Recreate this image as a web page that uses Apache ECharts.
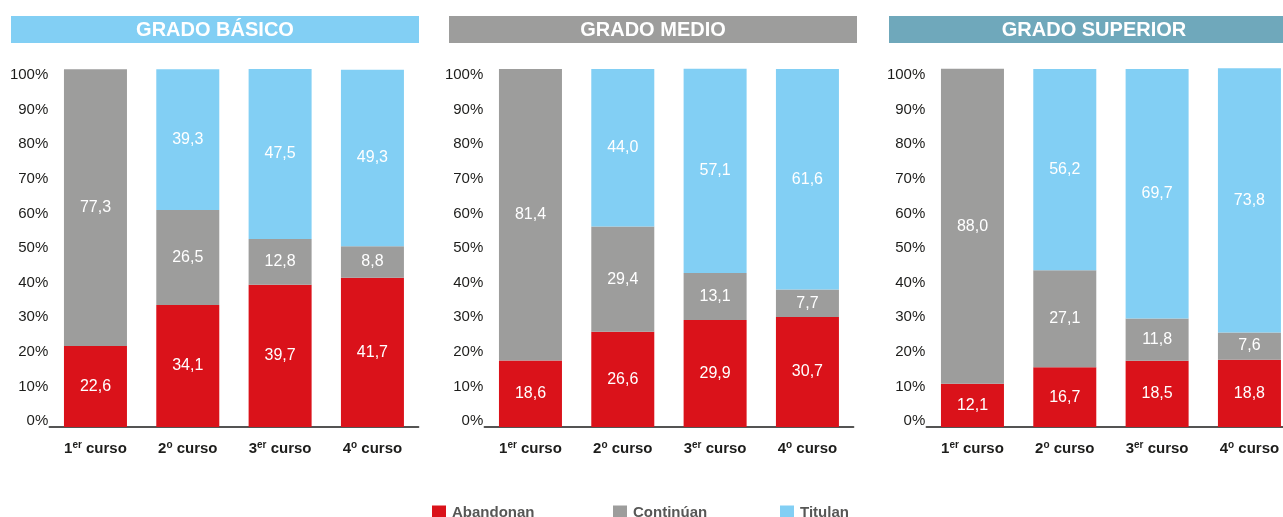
<!DOCTYPE html>
<html>
<head>
<meta charset="utf-8">
<script src="https://cdn.jsdelivr.net/npm/echarts@6/dist/echarts.min.js"></script>
<style>
  html, body { margin: 0; padding: 0; background: #fff; }
  #main { width: 1283px; height: 517px; }
</style>
</head>
<body>
<div id="main"></div>
<script>
const categories = ['1er curso', '2º curso', '3er curso', '4º curso']
const panels = ['GRADO BÁSICO', 'GRADO MEDIO', 'GRADO SUPERIOR']
const seriesNames = ['Abandonan', 'Continúan', 'Titulan']

// one array per panel and group, in %
const basicoAbandonan = [22.6, 34.1, 39.7, 41.7]
const basicoContinuan = [77.3, 26.5, 12.8, 8.8]
const basicoTitulan = [null, 39.3, 47.5, 49.3]

const medioAbandonan = [18.6, 26.6, 29.9, 30.7]
const medioContinuan = [81.4, 29.4, 13.1, 7.7]
const medioTitulan = [null, 44.0, 57.1, 61.6]

const superiorAbandonan = [12.1, 16.7, 18.5, 18.8]
const superiorContinuan = [88.0, 27.1, 11.8, 7.6]
const superiorTitulan = [null, 56.2, 69.7, 73.8]

const yTicks = [0, 10, 20, 30, 40, 50, 60, 70, 80, 90, 100]

const data = [
  [basicoAbandonan, basicoContinuan, basicoTitulan],
  [medioAbandonan, medioContinuan, medioTitulan],
  [superiorAbandonan, superiorContinuan, superiorTitulan],
]

const colors = ['#da121a', '#9d9d9c', '#82cff4']
const titleColors = ['#82cff4', '#9d9d9c', '#6fa8bb']
const font = '"Liberation Sans", Arial, Helvetica, sans-serif'
const dark = '#1d1d1b'

const chart = echarts.init(document.getElementById('main'))

const grids = []
const xAxes = []
const yAxes = []
const series = []
const graphics = []

const gridLefts = [49.3, 484.3, 926.3]
const gridWidth = 369.3
const titleBoxes = [[11, 408], [449, 408], [889, 410]]

const fmtCat = (v) => {
  const m = v.match(/^(\d)(\S+) (.+)$/)
  if (!m) return v
  const sup = m[2] === 'º' ? 'o' : m[2]
  return '{n|' + m[1] + '}{s|' + sup + '}{n| ' + m[3] + '}'
}

panels.forEach((name, p) => {
  // bars grid
  grids.push({ left: gridLefts[p], width: gridWidth, top: 69, height: 358, outerBoundsMode: 'none' })
  // grid used only to place the percentage labels
  grids.push({ left: gridLefts[p], width: gridWidth, top: 75, height: 346, outerBoundsMode: 'none' })

  const gi = p * 2
  xAxes.push({
    type: 'category',
    gridIndex: gi,
    data: categories,
    axisTick: { show: false },
    axisLine: { lineStyle: { color: dark, width: 1.5 } },
    axisLabel: {
      interval: 0,
      margin: 13,
      formatter: fmtCat,
      rich: {
        n: { fontFamily: font, fontSize: 15, fontWeight: 'bold', color: dark, lineHeight: 18 },
        s: { fontFamily: font, fontSize: 10, fontWeight: 'bold', color: dark, lineHeight: 10, verticalAlign: 'top' },
      },
    },
  })
  xAxes.push({ type: 'category', gridIndex: gi + 1, data: categories, show: false })

  yAxes.push({
    type: 'value', gridIndex: gi, min: 0, max: 100, interval: 10,
    axisLabel: { show: false }, axisLine: { show: false },
    axisTick: { show: false }, splitLine: { show: false },
  })
  yAxes.push({
    type: 'value', gridIndex: gi + 1, min: yTicks[0], max: yTicks[yTicks.length - 1], interval: 10,
    axisLine: { show: false }, axisTick: { show: false }, splitLine: { show: false },
    axisLabel: {
      margin: 1,
      fontFamily: font, fontSize: 15, color: dark,
      formatter: (v) => v + '%',
    },
  })

  seriesNames.forEach((s, k) => {
    series.push({
      name: s,
      type: 'bar',
      stack: 'p' + p,
      xAxisIndex: gi,
      yAxisIndex: gi,
      barWidth: 63,
      clip: false,
      itemStyle: { color: colors[k] },
      label: {
        show: true,
        position: 'inside',
        color: '#fff',
        fontFamily: font,
        fontSize: 16,
        formatter: (d) => (d.value == null ? '' : d.value.toFixed(1).replace('.', ',')),
      },
      data: data[p][k],
    })
  })

  // title band
  graphics.push({
    type: 'rect',
    left: titleBoxes[p][0],
    top: 16,
    shape: { width: titleBoxes[p][1], height: 27 },
    style: { fill: titleColors[p] },
    textContent: {
      style: { text: name, fill: '#fff', font: 'bold 20px ' + font },
    },
    textConfig: { position: 'inside', offset: [0, 1] },
  })
})

const legendLefts = [432, 613, 780]
const legends = seriesNames.map((s, k) => ({
  data: [s],
  left: legendLefts[k],
  top: 505,
  padding: 0,
  icon: 'rect',
  itemWidth: 14,
  itemHeight: 14,
  selectedMode: false,
  textStyle: { fontFamily: font, fontSize: 15, fontWeight: 'bold', color: '#575756', padding: [0, 0, 0, 1] },
}))

chart.setOption({
  animation: false,
  grid: grids,
  xAxis: xAxes,
  yAxis: yAxes,
  legend: legends,
  graphic: graphics,
  series: series,
})
</script>
</body>
</html>
